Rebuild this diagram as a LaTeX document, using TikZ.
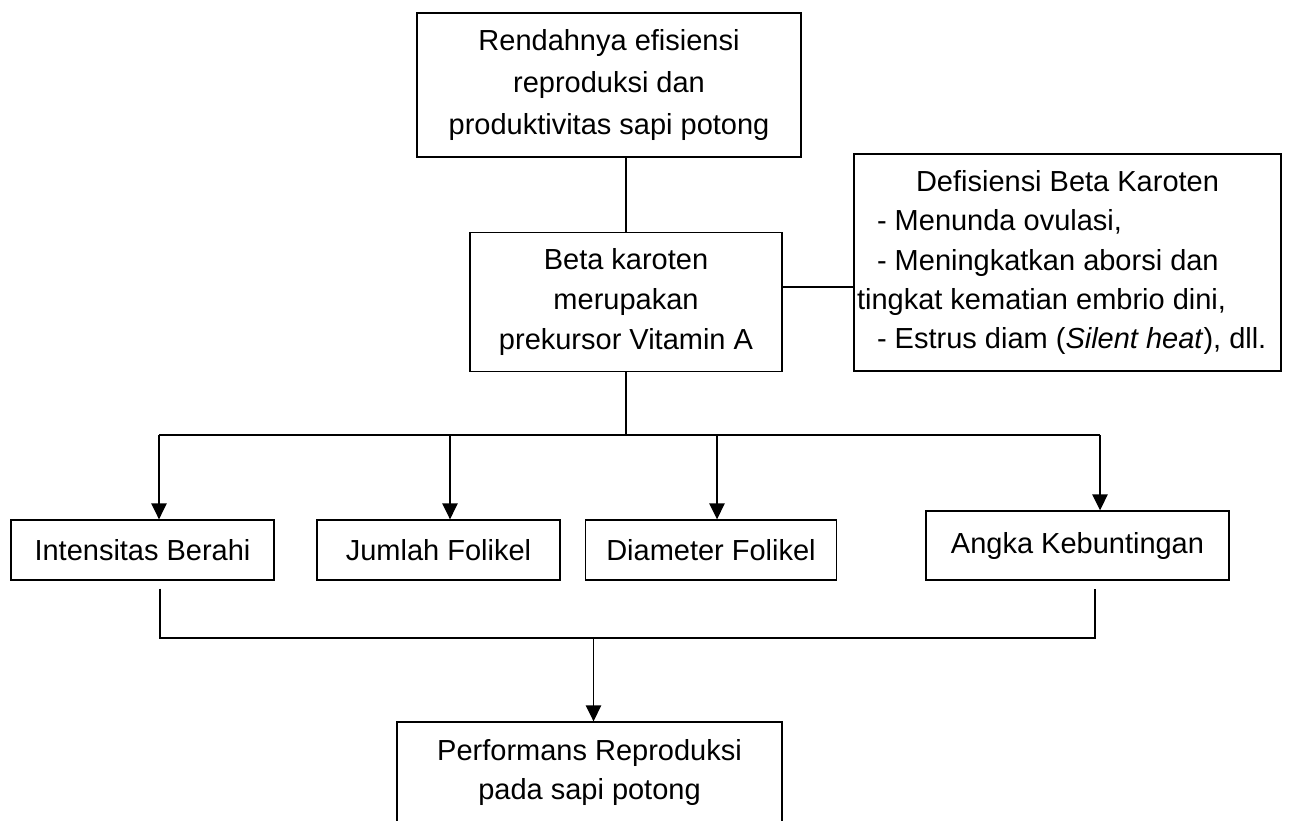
\documentclass[tikz,border=0pt]{standalone}
\usepackage{fontspec}
\setmainfont{Liberation Sans}
\usepackage{tikz}
\usetikzlibrary{positioning}
\usetikzlibrary{arrows.meta}
\tikzset{>={Triangle[length=0.32cm,width=0.31cm]}}
\tikzstyle{box}=[draw,line width=0.8pt,align=center,inner sep=0pt,font=\fontsize{16.5}{22.7}\selectfont]
\tikzstyle{link}=[line width=0.8pt]

\begin{document}
\begin{tikzpicture}[x=0.02cm,y=-0.02cm]
\useasboundingbox (0,0) rectangle (1301,821);

% Top boxes
\node[box,minimum width=7.68cm,minimum height=2.88cm,font=\fontsize{16.5}{23.8}\selectfont] (rendah) at (609,85)
  {Rendahnya efisiensi\\reproduksi dan\\produktivitas sapi potong};
\node[box,minimum width=6.24cm,minimum height=2.78cm] (beta) at (626,302)
  {Beta karoten\\merupakan\\prekursor Vitamin A};
\node[box,align=left,inner xsep=0.06cm,minimum width=8.54cm,minimum height=4.34cm,font=\fontsize{16.5}{22.4}\selectfont] (defisiensi) at (1067.5,262.5)
  {\makebox[8.42cm]{Defisiensi Beta Karoten}\\\hspace*{0.4cm}- Menunda ovulasi,\\\hspace*{0.4cm}- Meningkatkan aborsi dan\\tingkat kematian embrio dini,\\\hspace*{0.4cm}- Estrus diam (\textit{Silent heat}), dll.};

% Middle row
\node[box,minimum width=5.26cm,minimum height=1.2cm] (berahi) at (142.5,550) {Intensitas Berahi};
\node[box,minimum width=4.86cm,minimum height=1.2cm] (jumlah) at (438.5,550) {Jumlah Folikel};
\node[box,minimum width=5.03cm,minimum height=1.2cm] (diameter) at (711,550) {Diameter Folikel};
\node[box,minimum width=6.06cm,minimum height=1.38cm] (bunting) at (1077.5,545.5) {Angka Kebuntingan};

% Bottom box
\node[box,minimum width=7.7cm,minimum height=2.02cm] (performans) at (589.5,772.5)
  {Performans Reproduksi\\pada sapi potong};

% Links on top
\draw[link] (rendah.south -| beta.north) -- (beta.north);
\draw[link] ([yshift=0.3cm]beta.east) -- ([yshift=0.3cm]beta.east -| defisiensi.west);

\coordinate (atas1) at (159,435);
\coordinate (atas2) at (450,435);
\coordinate (atas3) at (717,435);
\coordinate (atas4) at (1100,435);
\draw[link] (beta.south) -- (beta.south |- atas1);
\draw[link] (atas1) -- (atas4);

% Arrows down
\draw[link,->] (atas1) -- (atas1 |- berahi.north);
\draw[link,->] (atas2) -- (atas2 |- jumlah.north);
\draw[link,->] (atas3) -- (atas3 |- diameter.north);
\draw[link,->] (atas4) -- (atas4 |- bunting.north);

% Links below
\coordinate (bawah1) at (160,638);
\coordinate (bawah2) at (1095,638);
\coordinate (gabung) at (593.5,638);
\draw[link,shorten <=0.16cm,shorten >=0.16cm] (berahi.south -| bawah1) -- (bawah1) -- (bawah2) -- (bunting.south -| bawah2);
\draw[link,->] (gabung) -- (gabung |- performans.north);

\end{tikzpicture}
\end{document}
